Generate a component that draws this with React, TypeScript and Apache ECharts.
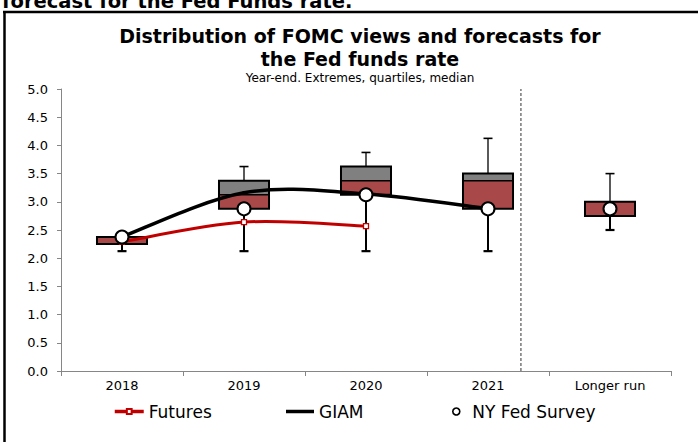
import React, { useEffect, useRef } from 'react';
import * as echarts from 'echarts';

const categories = ['2018', '2019', '2020', '2021', 'Longer run'];
const minValues = [2.125, 2.125, 2.125, 2.125, 2.5];
const q1Values = [2.25, 2.875, 3.125, 2.875, 2.75];
const medianValues = [2.375, 3.125, 3.375, 3.375, 3.0];
const q3Values = [2.375, 3.375, 3.625, 3.5, 3.0];
const maxValues = [2.375, 3.625, 3.875, 4.125, 3.5];
const futuresValues = [2.29, 2.64, 2.57, null, null];
const giamValues = [2.38, 3.16, 3.14, 2.88, null];
const nyFedValues = [2.375, 2.875, 3.125, 2.875, 2.875];
const separatorAt = 3.27;
const yTicks = { min: 0, max: 5, interval: 0.5 };

const FONT = 'DejaVu Sans';
const RED = '#A94848';
const GRAY = '#808080';
const FUT_RED = '#C00000';

// Excel-like smoothed segment i -> i+1 drawn through the axis scales
function smoothSegment(values: (number | null)[], color: string, width: number) {
  return (params: any, api: any) => {
    const i = api.value(0);
    const v = (k: number) => (k >= 0 && k < values.length ? values[k] : null);
    if (v(i) == null || v(i + 1) == null) return null;
    const p = (k: number) => api.coord([k, v(k)]);
    const p0 = p(i);
    const p1 = p(i + 1);
    const pPrev = v(i - 1) != null ? p(i - 1) : p0;
    const pNext = v(i + 2) != null ? p(i + 2) : p1;
    const t = 1 / 6;
    return {
      type: 'bezierCurve',
      shape: {
        x1: p0[0], y1: p0[1], x2: p1[0], y2: p1[1],
        cpx1: p0[0] + (p1[0] - pPrev[0]) * t,
        cpy1: p0[1] + (p1[1] - pPrev[1]) * t,
        cpx2: p1[0] - (pNext[0] - p0[0]) * t,
        cpy2: p1[1] - (pNext[1] - p0[1]) * t,
      },
      style: { stroke: color, lineWidth: width, fill: 'none', lineCap: 'round' },
    };
  };
}

export default function App() {
  const ref = useRef<HTMLDivElement>(null);
  useEffect(() => {
    const chart = echarts.init(ref.current as HTMLDivElement, null, { renderer: 'svg' });
    const boxData = categories.map((_, i) => [i, minValues[i], q1Values[i], medianValues[i], q3Values[i], maxValues[i]]);
    const giamData = giamValues.map((v, i) => [i, v]).filter((d) => d[1] != null);
    const futData = futuresValues.map((v, i) => [i, v]).filter((d) => d[1] != null);
    const axisGray = { color: '#868686', width: 1 };
    const legendText = { color: '#000', fontSize: 17, fontFamily: FONT };
    chart.setOption({
      animation: false,
      textStyle: { fontFamily: FONT },
      grid: { left: 61, right: 27, top: 89, bottom: 71, containLabel: false },
      xAxis: [
        {
          type: 'category',
          data: categories,
          boundaryGap: true,
          axisLine: { show: true, onZero: false, lineStyle: axisGray },
          axisTick: { show: true, length: 5, lineStyle: axisGray },
          axisLabel: { color: '#000', fontSize: 13, margin: 8, fontFamily: FONT },
          splitLine: { show: false },
        },
        { type: 'value', min: -0.5, max: 4.5, show: false, splitLine: { show: false } },
      ],
      yAxis: {
        type: 'value',
        min: yTicks.min,
        max: yTicks.max,
        interval: yTicks.interval,
        splitLine: { show: false },
        axisLine: { show: true, onZero: false, lineStyle: axisGray },
        axisTick: { show: true, length: 4, lineStyle: axisGray },
        axisLabel: { color: '#000', fontSize: 13, margin: 13, fontFamily: FONT, formatter: (v: number) => v.toFixed(1) },
      },
      legend: [
        {
          data: [{ name: 'Futures' }], left: 113, top: 403, padding: 0, itemWidth: 29, itemHeight: 6, itemGap: 0,
          lineStyle: { width: 3.5, color: FUT_RED, opacity: 1 },
          textStyle: legendText,
        },
        {
          data: [{ name: 'GIAM', icon: 'rect' }], left: 286, top: 403, padding: 0, itemWidth: 28, itemHeight: 3.5, itemGap: 0,
          itemStyle: { color: '#000' },
          textStyle: legendText,
        },
        {
          data: [{ name: 'NY Fed Survey' }], left: 452, top: 403, padding: 0, itemWidth: 22, itemHeight: 7, itemGap: 0,
          itemStyle: { borderWidth: 1.6 },
          textStyle: legendText,
        },
      ],
      graphic: [
        { type: 'line', shape: { x1: 4.5, y1: 11, x2: 4.5, y2: 442 }, style: { stroke: '#000', lineWidth: 2.5 } },
        { type: 'line', shape: { x1: 3, y1: 12, x2: 698, y2: 12 }, style: { stroke: '#000', lineWidth: 2.5 } },
        {
          type: 'text', x: 2, y: 1.5,
          style: { text: 'forecast for the Fed Funds rate.', font: `bold 19.5px "${FONT}"`, fill: '#000', align: 'left', verticalAlign: 'middle' },
        },
        {
          type: 'text', x: 360, y: 36,
          style: { text: 'Distribution of FOMC views and forecasts for', font: `bold 19px "${FONT}"`, fill: '#000', align: 'center', verticalAlign: 'middle' },
        },
        {
          type: 'text', x: 360, y: 59,
          style: { text: 'the Fed funds rate', font: `bold 19px "${FONT}"`, fill: '#000', align: 'center', verticalAlign: 'middle' },
        },
        {
          type: 'text', x: 360, y: 78,
          style: { text: 'Year-end. Extremes, quartiles, median', font: `12px "${FONT}"`, fill: '#000', align: 'center', verticalAlign: 'middle' },
        },
      ],
      series: [
        {
          name: 'Distribution',
          type: 'custom',
          xAxisIndex: 0,
          yAxisIndex: 0,
          z: 1,
          encode: { x: 0, y: [1, 2, 3, 4, 5] },
          data: boxData,
          renderItem: (params: any, api: any) => {
            const i = api.value(0);
            const pMin = api.coord([i, api.value(1)]);
            const pQ1 = api.coord([i, api.value(2)]);
            const pMed = api.coord([i, api.value(3)]);
            const pQ3 = api.coord([i, api.value(4)]);
            const pMax = api.coord([i, api.value(5)]);
            const bw = api.size([1, 0])[0] * 0.41;
            const cx = pQ1[0];
            const cap = 4.5;
            const children: any[] = [];
            if (pMax[1] < pQ3[1] - 0.5) {
              children.push({ type: 'line', shape: { x1: cx, y1: pMax[1], x2: cx, y2: pQ3[1] }, style: { stroke: '#000', lineWidth: 1.3 } });
              children.push({ type: 'line', shape: { x1: cx - cap, y1: pMax[1], x2: cx + cap, y2: pMax[1] }, style: { stroke: '#000', lineWidth: 1.6 } });
            }
            if (pMin[1] > pQ1[1] + 0.5) {
              children.push({ type: 'line', shape: { x1: cx, y1: pQ1[1], x2: cx, y2: pMin[1] }, style: { stroke: '#000', lineWidth: 2 } });
              children.push({ type: 'line', shape: { x1: cx - cap, y1: pMin[1], x2: cx + cap, y2: pMin[1] }, style: { stroke: '#000', lineWidth: 2.2 } });
            }
            children.push({ type: 'rect', shape: { x: cx - bw / 2, y: pMed[1], width: bw, height: pQ1[1] - pMed[1] }, style: { fill: RED } });
            if (pMed[1] - pQ3[1] > 0.5) {
              children.push({ type: 'rect', shape: { x: cx - bw / 2, y: pQ3[1], width: bw, height: pMed[1] - pQ3[1] }, style: { fill: GRAY } });
              children.push({ type: 'line', shape: { x1: cx - bw / 2, y1: pMed[1], x2: cx + bw / 2, y2: pMed[1] }, style: { stroke: '#000', lineWidth: 1.5 } });
            }
            children.push({ type: 'rect', shape: { x: cx - bw / 2, y: pQ3[1], width: bw, height: pQ1[1] - pQ3[1] }, style: { fill: 'none', stroke: '#000', lineWidth: 2 } });
            return { type: 'group', children };
          },
        },
        {
          name: 'Separator',
          type: 'line',
          xAxisIndex: 1,
          yAxisIndex: 0,
          z: 2,
          symbol: 'none',
          silent: true,
          data: [[separatorAt, yTicks.min], [separatorAt, yTicks.max]],
          lineStyle: { color: '#333', width: 1, type: [3, 2] },
        },
        {
          name: 'Futures curve',
          type: 'custom',
          xAxisIndex: 0,
          yAxisIndex: 0,
          z: 3,
          silent: true,
          encode: { x: 0, y: 1 },
          data: futData,
          renderItem: smoothSegment(futuresValues, FUT_RED, 3),
        },
        {
          name: 'Futures',
          type: 'line',
          xAxisIndex: 0,
          yAxisIndex: 0,
          z: 4,
          data: futuresValues,
          symbol: 'rect',
          symbolSize: 5,
          showSymbol: true,
          itemStyle: { color: '#fff', borderColor: FUT_RED, borderWidth: 1.3 },
          lineStyle: { color: FUT_RED, width: 0, opacity: 0 },
          color: FUT_RED,
        },
        {
          name: 'GIAM',
          type: 'custom',
          xAxisIndex: 0,
          yAxisIndex: 0,
          z: 5,
          encode: { x: 0, y: 1 },
          data: giamData,
          itemStyle: { color: '#000' },
          renderItem: smoothSegment(giamValues, '#000', 3.5),
        },
        {
          name: 'NY Fed Survey',
          type: 'scatter',
          xAxisIndex: 0,
          yAxisIndex: 0,
          z: 6,
          data: nyFedValues,
          symbol: 'circle',
          symbolSize: 13,
          itemStyle: { color: '#fff', borderColor: '#000', borderWidth: 2, opacity: 1 },
        },
      ],
    });
    return () => chart.dispose();
  }, []);
  return <div ref={ref} style={{ position: 'fixed', left: 0, top: 0, width: 698, height: 442, background: '#fff' }} />;
}
